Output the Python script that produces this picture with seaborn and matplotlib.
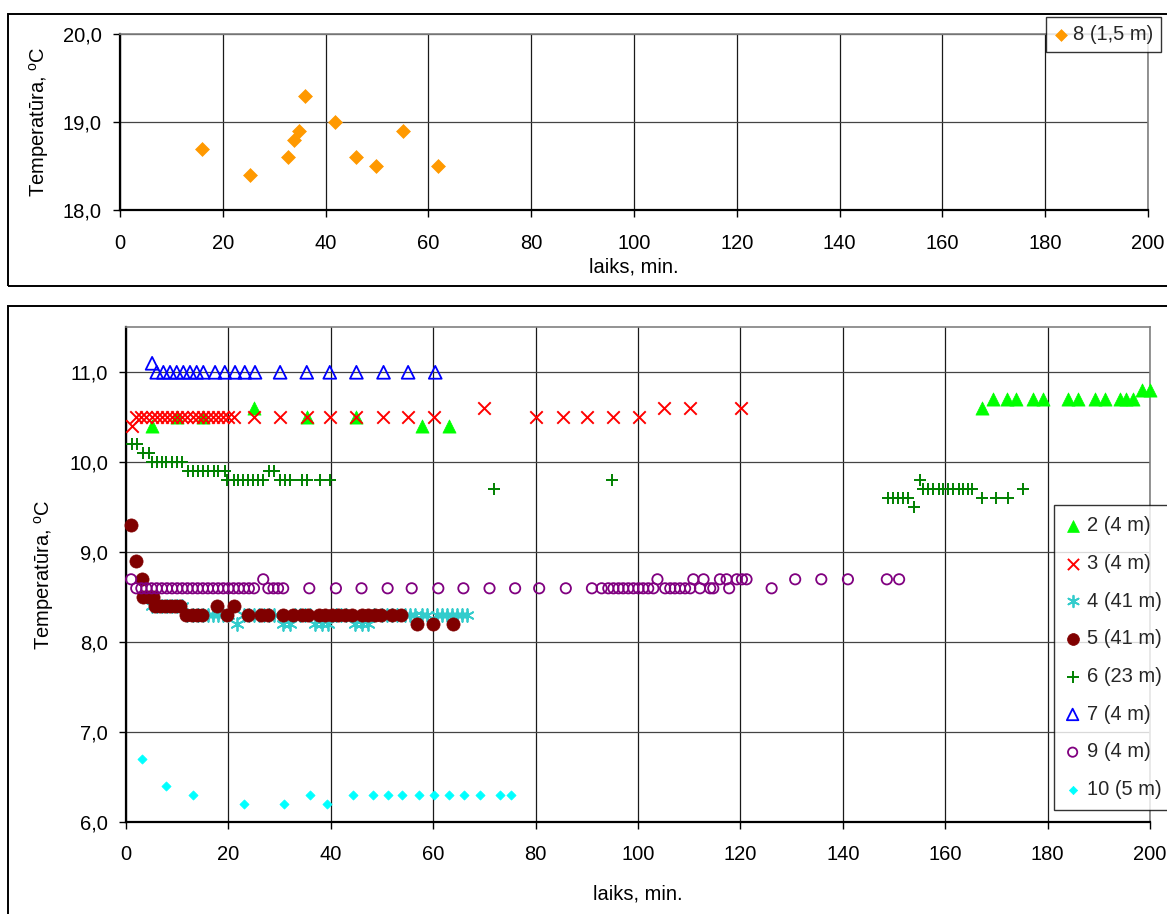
import matplotlib
matplotlib.use("Agg")
import matplotlib.pyplot as plt
from matplotlib.patches import Rectangle
from matplotlib.ticker import FuncFormatter, MultipleLocator
import pandas as pd
import seaborn as sns

# ---------------- data ----------------
# sensor 8 (1,5 m)
t8 = [15.9, 25.2, 32.7, 33.9, 34.8, 36.0, 41.8, 46.0, 49.9, 55.0, 61.9]
T8 = [18.7, 18.4, 18.6, 18.8, 18.9, 19.3, 19.0, 18.6, 18.5, 18.9, 18.5]

# sensor 2 (4 m)
t2 = [5.1, 10.0, 15.0, 25.0, 35.3, 45.0, 57.9, 63.0, 167.2, 169.4, 172.0, 173.9,
      177.2, 179.1, 184.0, 186.0, 189.3, 191.2, 194.1, 195.4, 196.7, 198.4, 200.0]
T2 = [10.4, 10.5, 10.5, 10.6, 10.5, 10.5, 10.4, 10.4, 10.6, 10.7, 10.7, 10.7,
      10.7, 10.7, 10.7, 10.7, 10.7, 10.7, 10.7, 10.7, 10.7, 10.8, 10.8]

# sensor 3 (4 m)
t3 = [1.1, 2, 3, 4, 5, 6, 7, 8, 9, 10, 11, 12, 13, 14, 15, 16, 17, 18, 19, 20, 21,
      25.0, 30.1, 35.3, 39.8, 45.0, 50.1, 55.1, 60.2, 69.9, 80.1, 85.3, 90.0,
      95.1, 100.1, 105.1, 110.2, 120.1]
T3 = [10.4, 10.5, 10.5, 10.5, 10.5, 10.5, 10.5, 10.5, 10.5, 10.5, 10.5, 10.5,
      10.5, 10.5, 10.5, 10.5, 10.5, 10.5, 10.5, 10.5, 10.5,
      10.5, 10.5, 10.5, 10.5, 10.5, 10.5, 10.5, 10.5, 10.6, 10.5, 10.5, 10.5,
      10.5, 10.5, 10.6, 10.6, 10.6]

# sensor 4 (41 m)
t4 = [5, 6, 7, 8, 9, 10, 11, 12, 13, 14, 15, 16, 17, 18, 19, 20, 21.6,
      23, 24, 25, 26, 27, 28, 29, 30.7, 32.0, 33, 34, 35, 36, 36.9, 38.2, 39.5,
      41, 42, 43, 44.7, 46.0, 47.3, 48.5, 50, 51, 52, 53, 54.5, 55.5, 56.5,
      57.8, 58.8, 60.7, 61.7, 62.6, 63.6, 64.6, 65.6, 66.6]
T4 = [8.4, 8.4, 8.4, 8.4, 8.4, 8.4, 8.4, 8.3, 8.3, 8.3, 8.3, 8.3, 8.3, 8.3, 8.3, 8.3, 8.2,
      8.3, 8.3, 8.3, 8.3, 8.3, 8.3, 8.3, 8.2, 8.2, 8.3, 8.3, 8.3, 8.3, 8.2, 8.2, 8.2,
      8.3, 8.3, 8.3, 8.2, 8.2, 8.2, 8.3, 8.3, 8.3, 8.3, 8.3, 8.3, 8.3, 8.3,
      8.3, 8.3, 8.3, 8.3, 8.3, 8.3, 8.3, 8.3, 8.3]

# sensor 5 (41 m)
t5 = [1.0, 1.9, 3.1, 3.4, 4.4, 5.3, 5.7, 6.6, 7.6, 8.6, 9.6, 10.5, 11.8, 12.8,
      13.8, 14.8, 17.8, 19.8, 21.1, 23.8, 26.4, 27.8, 30.7, 32.7, 34.3, 35.6,
      37.6, 38.9, 40.2, 41.5, 42.8, 44.1, 46.0, 47.3, 48.6, 49.9, 51.9, 53.8,
      56.9, 60.0, 63.9]
T5 = [9.3, 8.9, 8.7, 8.5, 8.5, 8.5, 8.4, 8.4, 8.4, 8.4, 8.4, 8.4, 8.3, 8.3,
      8.3, 8.3, 8.4, 8.3, 8.4, 8.3, 8.3, 8.3, 8.3, 8.3, 8.3, 8.3,
      8.3, 8.3, 8.3, 8.3, 8.3, 8.3, 8.3, 8.3, 8.3, 8.3, 8.3, 8.3,
      8.2, 8.2, 8.2]

# sensor 6 (23 m)
t6 = [1.1, 2.1, 3.4, 4.4, 5.0, 6.0, 7.0, 7.9, 8.9, 9.9, 10.9, 12.2, 13.1, 14.1,
      15.1, 16.1, 17.1, 18.0, 19.3, 19.7, 21.0, 21.9, 22.9, 23.9, 24.9, 25.8,
      26.8, 28.0, 29.0, 30.1, 31.1, 32.0, 34.3, 35.3, 37.9, 39.8, 71.9, 95.0,
      148.8, 149.8, 150.8, 151.8, 152.7, 154.0, 155.1, 155.7, 156.7, 157.7,
      158.7, 159.6, 160.6, 161.6, 162.6, 163.5, 164.5, 165.2, 167.1, 170.0,
      172.2, 175.1]
T6 = [10.2, 10.2, 10.1, 10.1, 10.0, 10.0, 10.0, 10.0, 10.0, 10.0, 10.0, 9.9, 9.9, 9.9,
      9.9, 9.9, 9.9, 9.9, 9.9, 9.8, 9.8, 9.8, 9.8, 9.8, 9.8, 9.8,
      9.8, 9.9, 9.9, 9.8, 9.8, 9.8, 9.8, 9.8, 9.8, 9.8, 9.7, 9.8,
      9.6, 9.6, 9.6, 9.6, 9.6, 9.5, 9.8, 9.7, 9.7, 9.7,
      9.7, 9.7, 9.7, 9.7, 9.7, 9.7, 9.7, 9.7, 9.6, 9.6,
      9.6, 9.7]

# sensor 7 (4 m)
t7 = [5.1, 6.0, 7.3, 8.6, 9.9, 11.2, 12.5, 13.8, 15.1, 17.4, 19.3, 21.3, 23.2,
      25.2, 30.1, 35.3, 39.8, 45.0, 50.3, 55.1, 60.4]
T7 = [11.1, 11.0, 11.0, 11.0, 11.0, 11.0, 11.0, 11.0, 11.0, 11.0, 11.0, 11.0, 11.0,
      11.0, 11.0, 11.0, 11.0, 11.0, 11.0, 11.0, 11.0]

# sensor 9 (4 m)
t9 = [1.0, 2, 3, 4, 5, 6, 7, 8, 9, 10, 11, 12, 13, 14, 15, 16, 17, 18, 19, 20,
      21, 22, 23, 24, 25, 26.8, 27.8, 28.8, 29.7, 30.7, 35.8, 41.0, 46.0, 51.1,
      55.8, 61.0, 65.9, 71.0, 76.0, 80.7, 85.9, 91.0, 92.9, 94.2, 95.2, 96.2,
      97.1, 98.1, 99.1, 100.1, 101.0, 102.0, 103.0, 103.8, 105.3, 106.3, 107.2,
      108.2, 109.2, 110.2, 110.8, 112.1, 112.8, 114.1, 114.7, 116.0, 117.3,
      117.8, 119.3, 120.3, 121.2, 126.1, 130.7, 135.8, 141.0, 148.6, 151.0]
T9 = [8.7, 8.6, 8.6, 8.6, 8.6, 8.6, 8.6, 8.6, 8.6, 8.6, 8.6, 8.6, 8.6, 8.6, 8.6, 8.6, 8.6, 8.6, 8.6, 8.6,
      8.6, 8.6, 8.6, 8.6, 8.6, 8.7, 8.6, 8.6, 8.6, 8.6, 8.6, 8.6, 8.6, 8.6,
      8.6, 8.6, 8.6, 8.6, 8.6, 8.6, 8.6, 8.6, 8.6, 8.6, 8.6, 8.6,
      8.6, 8.6, 8.6, 8.6, 8.6, 8.6, 8.6, 8.7, 8.6, 8.6, 8.6,
      8.6, 8.6, 8.6, 8.7, 8.6, 8.7, 8.6, 8.6, 8.7, 8.7,
      8.6, 8.7, 8.7, 8.7, 8.6, 8.7, 8.7, 8.7, 8.7, 8.7]

# sensor 10 (5 m)
t10 = [3.2, 7.9, 13.0, 23.1, 30.9, 35.9, 39.2, 44.3, 48.2, 51.2, 54.0, 57.2,
       60.2, 63.0, 66.1, 69.1, 73.0, 75.1]
T10 = [6.7, 6.4, 6.3, 6.2, 6.2, 6.3, 6.2, 6.3, 6.3, 6.3, 6.3, 6.3,
       6.3, 6.3, 6.3, 6.3, 6.3, 6.3]

top_label = "8 (1,5 m)"
labels = ["2 (4 m)", "3 (4 m)", "4 (41 m)", "5 (41 m)", "6 (23 m)",
          "7 (4 m)", "9 (4 m)", "10 (5 m)"]
xlabel = "laiks, min."
ylabel = "Temperatūra, $^{\\mathrm{o}}$C"

# ---------------- style ----------------
sns.set_theme(style="white")
plt.rcParams["font.family"] = ["Liberation Sans", "DejaVu Sans"]
plt.rcParams["mathtext.fontset"] = "custom"
plt.rcParams["mathtext.rm"] = "Liberation Sans"
plt.rcParams["mathtext.it"] = "Liberation Sans:italic"
FS = 14.5

W, H = 1167, 914
fig = plt.figure(figsize=(W / 100, H / 100), dpi=100)
fig.patch.set_facecolor("white")


def box_axes(left, top, right, bottom):
    return fig.add_axes([left / W, 1 - bottom / H, (right - left) / W, (bottom - top) / H])


def frame(left, top, right, bottom):
    fig.patches.append(Rectangle((left / W, 1 - bottom / H), (right - left) / W,
                                 (bottom - top) / H, transform=fig.transFigure,
                                 fill=False, edgecolor="black", lw=1.4, zorder=0))


comma = FuncFormatter(lambda v, p: f"{v:.1f}".replace(".", ","))


def style_axes(ax, xpad, ypad):
    ax.set_facecolor("white")
    ax.set_xlim(0, 200)
    ax.xaxis.set_major_locator(MultipleLocator(20))
    ax.yaxis.set_major_locator(MultipleLocator(1))
    ax.yaxis.set_major_formatter(comma)
    ax.grid(True, axis="x", color="#1a1a1a", lw=0.9)
    ax.grid(True, axis="y", color="#444444", lw=0.9)
    ax.set_axisbelow(True)
    for s in ("left", "bottom"):
        ax.spines[s].set_color("black")
        ax.spines[s].set_linewidth(1.6)
    for s in ("top", "right"):
        ax.spines[s].set_color("#808080")
        ax.spines[s].set_linewidth(1.2)
    ax.tick_params(axis="x", bottom=True, direction="out", length=5, width=1,
                   color="black", labelsize=FS, pad=xpad, labelcolor="black")
    ax.tick_params(axis="y", left=True, direction="out", length=5, width=1,
                   color="black", labelsize=FS, pad=ypad, labelcolor="black")


# ---------------- top panel ----------------
frame(8, 14, 1185, 286)
ax1 = box_axes(120, 34.3, 1148, 210)
style_axes(ax1, 12, 8)
ax1.set_ylim(18, 20)
sns.scatterplot(x=t8, y=T8, ax=ax1, marker="D", s=50, color="#FF9900",
                edgecolor="#FF9900", linewidth=0.5, label=top_label, clip_on=False,
                zorder=3, legend=False)
ax1.set_xlabel(xlabel, fontsize=FS, color="black")
ax1.set_ylabel(ylabel, fontsize=FS, color="black")
ax1.xaxis.set_label_coords(0.5, -0.27)
ax1.yaxis.set_label_coords(-0.067, 0.5)
leg1 = ax1.legend(loc="upper left", bbox_to_anchor=(1046 / W, 1 - 17 / H),
                  bbox_transform=fig.transFigure, fontsize=FS, frameon=True,
                  fancybox=False, edgecolor="black", borderaxespad=0,
                  handlelength=0.65, handletextpad=0.3, borderpad=0.4,
                  scatterpoints=1, markerscale=0.85)
leg1.get_frame().set_linewidth(1.0)

# ---------------- bottom panel ----------------
frame(8, 306, 1185, 940)
ax2 = box_axes(126, 327.3, 1150, 822.3)
style_axes(ax2, 11, 8)
ax2.set_ylim(6, 11.5)

series = [
    (t2, T2, labels[0], dict(marker="^", s=90, color="#00FF00", edgecolor="#00FF00", linewidth=0.5)),
    (t3, T3, labels[1], dict(marker="x", s=80, color="#FF0000", linewidth=1.4)),
    (t4, T4, labels[2], dict(marker=(6, 2, 0), s=85, color="#33CCCC", linewidth=1.3)),
    (t5, T5, labels[3], dict(marker="o", s=90, color="#800000", edgecolor="#800000", linewidth=0.5)),
    (t6, T6, labels[4], dict(marker="+", s=85, color="#008000", linewidth=1.4)),
    (t7, T7, labels[5], dict(marker="^", s=85, facecolor="none", edgecolor="#0000FF", color="#0000FF", linewidth=1.3)),
    (t9, T9, labels[6], dict(marker="o", s=55, facecolor="none", edgecolor="#800080", color="#800080", linewidth=1.3)),
    (t10, T10, labels[7], dict(marker="D", s=22, color="#00FFFF", edgecolor="#00FFFF", linewidth=0.5)),
]
for i, (tx, ty, lab, kw) in enumerate(series):
    df = pd.DataFrame({"laiks": tx, "temp": ty})
    sns.scatterplot(data=df, x="laiks", y="temp", ax=ax2, label=lab,
                    clip_on=False, zorder=3 + i, legend=False, **kw)

ax2.set_xlabel(xlabel, fontsize=FS, color="black")
ax2.set_ylabel(ylabel, fontsize=FS, color="black")
ax2.xaxis.set_label_coords(0.5, -0.125)
ax2.yaxis.set_label_coords(-0.068, 0.5)
leg2 = ax2.legend(loc="upper left", bbox_to_anchor=(1054 / W, 1 - 505 / H),
                  bbox_transform=fig.transFigure, fontsize=FS, frameon=True,
                  fancybox=False, edgecolor="black", borderaxespad=0,
                  handlelength=0.75, handletextpad=0.35, borderpad=0.55,
                  labelspacing=0.93, scatterpoints=1, markerscale=0.9)
leg2.get_frame().set_linewidth(1.0)
leg2.set_zorder(20)

fig.savefig("out.png", dpi=100, facecolor="white")
